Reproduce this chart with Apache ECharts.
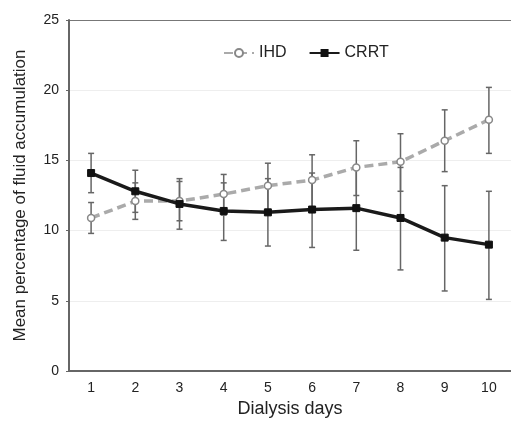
<!DOCTYPE html>
<html>
<head>
<meta charset="utf-8">
<script src="https://cdn.jsdelivr.net/npm/echarts@6/dist/echarts.min.js"></script>
<style>
    html, body { margin: 0; padding: 0; background: #fff; }
    #main { width: 511px; height: 423px; }
</style>
</head>
<body>
<div id="main"></div>
<script>
    // 数据
    var days = ['1', '2', '3', '4', '5', '6', '7', '8', '9', '10'];
    var ihdMean = [10.9, 12.1, 12.1, 12.6, 13.2, 13.6, 14.5, 14.9, 16.4, 17.9];
    var ihdLow = [9.8, 10.8, 10.7, 11.1, 11.5, 11.7, 12.5, 12.8, 14.2, 15.5];
    var ihdHigh = [12.0, 13.4, 13.5, 14.0, 14.8, 15.4, 16.4, 16.9, 18.6, 20.2];
    var crrtMean = [14.1, 12.8, 11.9, 11.4, 11.3, 11.5, 11.6, 10.9, 9.5, 9.0];
    var crrtLow = [12.7, 11.3, 10.1, 9.3, 8.9, 8.8, 8.6, 7.2, 5.7, 5.1];
    var crrtHigh = [15.5, 14.3, 13.7, 13.4, 13.7, 14.1, 14.6, 14.5, 13.2, 12.8];
    var yTicks = [0, 5, 10, 15, 20, 25];

    var font = 'Liberation Sans, Arial, sans-serif';

    function errData(low, high) {
        return days.map(function (d, i) { return [i, low[i], high[i]]; });
    }

    // 误差线
    function renderErr(params, api) {
        var x = api.value(0);
        var lo = api.coord([x, api.value(1)]);
        var hi = api.coord([x, api.value(2)]);
        var w = 3;
        var st = { stroke: '#666', lineWidth: 1.5 };
        return {
            type: 'group',
            children: [
                { type: 'line', shape: { x1: hi[0], y1: hi[1], x2: lo[0], y2: lo[1] }, style: st },
                { type: 'line', shape: { x1: hi[0] - w, y1: hi[1], x2: hi[0] + w, y2: hi[1] }, style: st },
                { type: 'line', shape: { x1: lo[0] - w, y1: lo[1], x2: lo[0] + w, y2: lo[1] }, style: st }
            ]
        };
    }

    var myChart = echarts.init(document.getElementById('main'));

    var option = {
        animation: false,
        textStyle: { fontFamily: font },
        legend: {
            top: 40,
            left: 218,
            itemWidth: 30,
            itemHeight: 10,
            itemGap: 22,
            textStyle: { fontSize: 16, color: '#222', fontFamily: font },
            data: ['IHD', 'CRRT']
        },
        grid: { left: 69, right: -3, top: 20, bottom: 50 },
        xAxis: {
            type: 'category',
            data: days,
            boundaryGap: true,
            name: 'Dialysis days',
            nameLocation: 'middle',
            nameGap: 29,
            nameTextStyle: { fontSize: 18, color: '#222', fontFamily: font },
            axisLine: { lineStyle: { color: '#666', width: 2 } },
            axisTick: { inside: true, length: 3, lineStyle: { color: '#666' } },
            axisLabel: { fontSize: 14, color: '#222', margin: 10 }
        },
        yAxis: {
            type: 'value',
            min: 0,
            max: 25,
            interval: 5,
            name: 'Mean percentage of fluid accumulation',
            nameLocation: 'middle',
            nameGap: 40,
            nameTextStyle: { fontSize: 17, color: '#222', fontFamily: font },
            axisLine: { show: true, lineStyle: { color: '#666', width: 2 } },
            axisTick: { show: true, length: 3, lineStyle: { color: '#666' } },
            axisLabel: {
                fontSize: 14, color: '#222', margin: 10,
                formatter: function (v) { return yTicks.indexOf(v) >= 0 ? String(v) : ''; }
            },
            splitLine: {
                show: true,
                lineStyle: { color: ['#666', '#eeeeee', '#eeeeee', '#eeeeee', '#eeeeee', '#777'], width: 1 }
            }
        },
        series: [
            {
                name: 'IHD err',
                type: 'custom',
                renderItem: renderErr,
                data: errData(ihdLow, ihdHigh),
                encode: { x: 0, y: [1, 2] },
                z: 1
            },
            {
                name: 'CRRT err',
                type: 'custom',
                renderItem: renderErr,
                data: errData(crrtLow, crrtHigh),
                encode: { x: 0, y: [1, 2] },
                z: 1
            },
            {
                name: 'IHD',
                type: 'line',
                data: ihdMean,
                symbol: 'circle',
                symbolSize: 7,
                itemStyle: { color: '#fff', borderColor: '#888', borderWidth: 1.5 },
                lineStyle: { color: '#aaa', width: 3.5, type: [9, 5] },
                z: 3
            },
            {
                name: 'CRRT',
                type: 'line',
                data: crrtMean,
                symbol: 'rect',
                symbolSize: 7,
                itemStyle: { color: '#111', borderColor: '#111' },
                lineStyle: { color: '#1a1a1a', width: 3.5 },
                z: 4
            }
        ]
    };

    myChart.setOption(option);
</script>
</body>
</html>
